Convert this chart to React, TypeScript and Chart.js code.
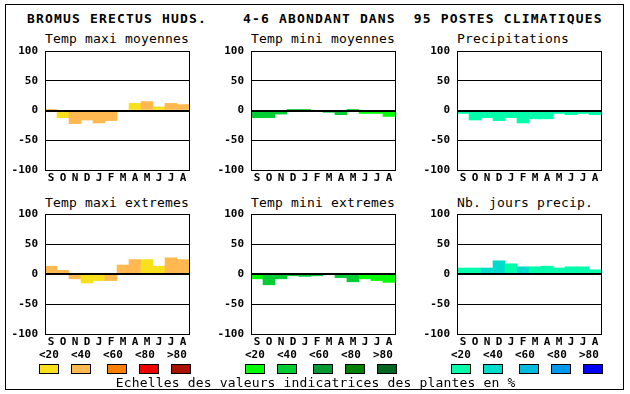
import React, { useEffect, useRef } from 'react';
import { Chart, registerables } from 'chart.js';

Chart.register(...registerables);

// ---- data ----
const MONTHS = ['S', 'O', 'N', 'D', 'J', 'F', 'M', 'A', 'M', 'J', 'J', 'A'];
const Y_TICKS = [-100, -50, 0, 50, 100];
const LEGEND_LABELS = ['<20', '<40', '<60', '<80', '>80'];

const WARM = ['#f8e11c', '#ffb950', '#ff8000', '#ee0000', '#aa1100'];
const GREEN = ['#00ff00', '#00cc33', '#009933', '#008000', '#006622'];
const BLUE = ['#00ffaa', '#00dccc', '#00bbdd', '#0099ee', '#0000ff'];

const TMAX_MOY = [2, -12, -22, -16, -21, -17, -2, 12, 15, 6, 12, 10];
const TMAX_MOY_CLS = [1, 0, 1, 1, 1, 1, 0, 0, 1, 0, 1, 1];

const TMIN_MOY = [-12, -12, -6, 2, 2, -2, -3, -7, 2, -5, -5, -10];
const TMIN_MOY_CLS = [1, 1, 1, 1, 1, 1, 1, 1, 1, 0, 0, 0];

const PRECIP = [-5, -16, -12, -17, -12, -21, -14, -14, -5, -7, -5, -7];
const PRECIP_CLS = [0, 0, 0, 0, 0, 0, 0, 0, 0, 0, 0, 0];

const TMAX_EXT = [13, 6, -8, -15, -11, -11, 15, 24, 24, 13, 27, 24];
const TMAX_EXT_CLS = [1, 1, 1, 0, 0, 1, 1, 1, 0, 0, 1, 1];

const TMIN_EXT = [-8, -18, -8, -3, -4, -3, 0, -6, -13, -8, -11, -14];
const TMIN_EXT_CLS = [0, 1, 1, 1, 1, 1, 1, 1, 1, 0, 0, 0];

const NB_JOURS = [10, 10, 10, 22, 17, 12, 12, 13, 10, 12, 12, 7];
const NB_JOURS_CLS = [0, 0, 1, 1, 0, 1, 0, 0, 0, 0, 0, 0];

const MAIN_TITLE = 'BROMUS ERECTUS HUDS.    4-6 ABONDANT DANS  95 POSTES CLIMATIQUES';
const FOOTER = 'Echelles des valeurs indicatrices des plantes en %';

// ---- layout ----
const FONT = '"DejaVu Sans Mono", "Liberation Mono", monospace';
const PLOT_W = 144;
const AXIS_W = 45;
const AXIS_H = 16;
const PAD = 16;
const COLS = [45, 251, 457];
const LEG_LABEL_OFF = [-6, 26, 58, 90, 122];
const LEG_SWATCH_OFF = [-6, 26, 62, 94, 126];

const framePlugin = {
  id: 'plotFrame',
  afterDraw(chart: any) {
    const { ctx, chartArea } = chart;
    ctx.save();
    ctx.strokeStyle = '#000';
    ctx.lineWidth = 1;
    ctx.strokeRect(
      Math.round(chartArea.left) + 0.5,
      Math.round(chartArea.top) + 0.5,
      Math.round(chartArea.right - chartArea.left),
      Math.round(chartArea.bottom - chartArea.top)
    );
    ctx.restore();
  },
};

type PanelProps = {
  values: number[];
  classes: number[];
  palette: string[];
  left: number;
  top: number;
  plotH: number;
};

function Panel({ values, classes, palette, left, top, plotH }: PanelProps) {
  const ref = useRef<HTMLCanvasElement | null>(null);
  const w = AXIS_W + PLOT_W + PAD;
  const h = PAD + plotH + AXIS_H;
  useEffect(() => {
    if (!ref.current) return;
    const tickFont = { family: FONT, size: 11, weight: 'bold' as const };
    const chart = new Chart(ref.current, {
      type: 'bar',
      data: {
        labels: MONTHS,
        datasets: [
          {
            data: values,
            backgroundColor: classes.map((c) => palette[c]),
            borderWidth: 0,
            barPercentage: 1,
            categoryPercentage: 1,
          },
        ],
      },
      options: {
        animation: false,
        responsive: false,
        maintainAspectRatio: false,
        devicePixelRatio: 1,
        events: [],
        layout: { padding: { left: 0, top: PAD, right: PAD, bottom: 0 } },
        plugins: {
          legend: { display: false },
          tooltip: { enabled: false },
          title: { display: false },
        },
        scales: {
          x: {
            grid: { display: false, drawTicks: false },
            border: { display: false },
            ticks: { font: tickFont, color: '#000', padding: 2, maxRotation: 0, autoSkip: false },
            afterFit: (s: any) => {
              s.height = AXIS_H;
            },
          },
          y: {
            min: -100,
            max: 100,
            afterBuildTicks: (s: any) => {
              s.ticks = Y_TICKS.map((v) => ({ value: v }));
            },
            grid: {
              color: '#000',
              lineWidth: (c: any) => (c.tick && c.tick.value === 0 ? 2 : 1),
              drawTicks: false,
              z: 1,
            },
            border: { display: false },
            ticks: { font: tickFont, color: '#000', padding: 7 },
            afterFit: (s: any) => {
              s.width = AXIS_W;
            },
          },
        },
      } as any,
      plugins: [framePlugin],
    });
    return () => chart.destroy();
  }, []);
  return (
    <canvas
      ref={ref}
      width={w}
      height={h}
      style={{ position: 'absolute', left: left - AXIS_W, top: top - PAD, width: w, height: h }}
    />
  );
}

function Txt({ x, base, size, bold, ls, children }: any) {
  return (
    <div
      style={{
        position: 'absolute',
        left: x,
        top: base - 0.846 * size,
        font: `${bold ? 'bold ' : ''}${size}px ${FONT}`,
        lineHeight: size + 'px',
        letterSpacing: ls || 0,
        whiteSpace: 'pre',
        color: '#000',
      }}
    >
      {children}
    </div>
  );
}

function Legend({ left, palette }: { left: number; palette: string[] }) {
  return (
    <>
      {LEGEND_LABELS.map((l, i) => (
        <Txt key={'l' + i} x={left + LEG_LABEL_OFF[i]} base={358} size={11} bold>
          {l}
        </Txt>
      ))}
      {palette.map((c, i) => (
        <div
          key={'s' + i}
          style={{
            position: 'absolute',
            left: left + LEG_SWATCH_OFF[i],
            top: 364,
            width: 20,
            height: 10,
            boxSizing: 'border-box',
            border: '1px solid #000',
            background: c,
          }}
        />
      ))}
    </>
  );
}

export default function App() {
  const TOP_Y = 51;
  const BOT_Y = 214;
  const panels = [
    { title: 'Temp maxi moyennes', v: TMAX_MOY, c: TMAX_MOY_CLS, p: WARM, col: 0, row: 0 },
    { title: 'Temp mini moyennes', v: TMIN_MOY, c: TMIN_MOY_CLS, p: GREEN, col: 1, row: 0 },
    { title: 'Precipitations', v: PRECIP, c: PRECIP_CLS, p: BLUE, col: 2, row: 0 },
    { title: 'Temp maxi extremes', v: TMAX_EXT, c: TMAX_EXT_CLS, p: WARM, col: 0, row: 1 },
    { title: 'Temp mini extremes', v: TMIN_EXT, c: TMIN_EXT_CLS, p: GREEN, col: 1, row: 1 },
    { title: 'Nb. jours precip.', v: NB_JOURS, c: NB_JOURS_CLS, p: BLUE, col: 2, row: 1 },
  ];
  return (
    <div
      style={{
        position: 'fixed',
        left: 0,
        top: 0,
        width: 630,
        height: 394,
        background: '#fff',
        overflow: 'hidden',
      }}
    >
      <div
        style={{
          position: 'absolute',
          left: 5,
          top: 4,
          width: 619,
          height: 386,
          boxSizing: 'border-box',
          border: '1px solid #000',
        }}
      />
      <Txt x={27} base={22.7} size={13} bold ls="1.17px">
        {MAIN_TITLE}
      </Txt>
      {panels.map((pn, i) => {
        const top = pn.row === 0 ? TOP_Y : BOT_Y;
        const plotH = pn.row === 0 ? 119 : 120;
        return (
          <React.Fragment key={i}>
            <Txt x={COLS[pn.col]} base={pn.row === 0 ? 43 : 206.7} size={13} ls="0.17px">
              {pn.title}
            </Txt>
            <Panel values={pn.v} classes={pn.c} palette={pn.p} left={COLS[pn.col]} top={top} plotH={plotH} />
          </React.Fragment>
        );
      })}
      <Legend left={COLS[0]} palette={WARM} />
      <Legend left={COLS[1]} palette={GREEN} />
      <Legend left={COLS[2]} palette={BLUE} />
      <Txt x={115.7} base={386.7} size={13} ls="0.17px">
        {FOOTER}
      </Txt>
    </div>
  );
}
